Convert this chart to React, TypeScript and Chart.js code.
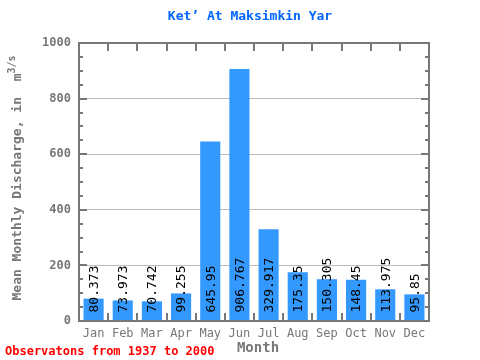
import React, { useEffect, useRef } from "react";
import { Chart, registerables } from "chart.js";

Chart.register(...registerables);

const months = ["Jan", "Feb", "Mar", "Apr", "May", "Jun", "Jul", "Aug", "Sep", "Oct", "Nov", "Dec"];
const discharge = [80.373, 73.973, 70.742, 99.255, 645.95, 906.767, 329.917, 175.35, 150.305, 148.45, 113.975, 95.85];
const valueLabels = ["80.373", "73.973", "70.742", "99.255", "645.95", "906.767", "329.917", "175.35", "150.305", "148.45", "113.975", "95.85"];
const titleText = "Ket\u2019 At Maksimkin Yar";
const yTitleMain = "Mean Monthly Discharge, in  m";
const yTitleSup = "3/s";
const xTitleText = "Month";
const noteText = "Observatons from 1937 to 2000";

const FONT = "'DejaVu Sans Mono', 'Liberation Mono', monospace";
const AXIS = "#777777";

const decorPlugin = {
  id: "decor",
  afterDatasetsDraw(chart: any) {
    const ctx = chart.ctx;
    const meta = chart.getDatasetMeta(0);
    ctx.save();
    ctx.fillStyle = "#000000";
    ctx.font = `13px ${FONT}`;
    ctx.textAlign = "left";
    ctx.textBaseline = "middle";
    meta.data.forEach((bar: any, i: number) => {
      ctx.save();
      ctx.translate(bar.x + 1, bar.base - 8);
      ctx.rotate(-Math.PI / 2);
      ctx.fillText(valueLabels[i], 0, 0);
      ctx.restore();
    });
    ctx.restore();
  },
  afterDraw(chart: any) {
    const ctx = chart.ctx;
    const { left, right, top, bottom } = chart.chartArea;
    const y = chart.scales.y;
    ctx.save();
    ctx.strokeStyle = AXIS;
    ctx.lineWidth = 2;
    ctx.strokeRect(left, top, right - left, bottom - top);
    for (let v = 50; v < 1000; v += 50) {
      const py = Math.round(y.getPixelForValue(v));
      const len = v % 200 === 0 ? 8 : 4;
      ctx.beginPath();
      ctx.moveTo(left, py);
      ctx.lineTo(left + len, py);
      ctx.moveTo(right, py);
      ctx.lineTo(right - len, py);
      ctx.stroke();
    }
    const n = months.length;
    const cw = (right - left) / n;
    for (let i = 1; i < n; i++) {
      const px = Math.round(left + cw * i);
      ctx.beginPath();
      ctx.moveTo(px, top);
      ctx.lineTo(px, top + 8);
      ctx.moveTo(px, bottom);
      ctx.lineTo(px, bottom - 8);
      ctx.stroke();
    }
    ctx.fillStyle = "#0066ff";
    ctx.font = `bold 13px ${FONT}`;
    ctx.textAlign = "center";
    ctx.textBaseline = "middle";
    ctx.fillText(titleText, 250, 17);
    ctx.fillStyle = AXIS;
    ctx.font = `bold 14px ${FONT}`;
    ctx.fillText(xTitleText, (left + right) / 2 + 4, 348);
    ctx.fillStyle = "#ff0000";
    ctx.font = `bold 12px ${FONT}`;
    ctx.textAlign = "left";
    ctx.fillText(noteText, 5, 352);
    ctx.save();
    ctx.translate(18, 178);
    ctx.rotate(-Math.PI / 2);
    ctx.fillStyle = AXIS;
    ctx.font = `bold 13px ${FONT}`;
    const mainW = ctx.measureText(yTitleMain).width;
    ctx.font = `bold 10px ${FONT}`;
    const supW = ctx.measureText(yTitleSup).width;
    const total = mainW + supW;
    ctx.textAlign = "left";
    ctx.font = `bold 13px ${FONT}`;
    ctx.fillText(yTitleMain, -total / 2, 0);
    ctx.font = `bold 10px ${FONT}`;
    ctx.fillText(yTitleSup, -total / 2 + mainW, -6);
    ctx.restore();
    ctx.restore();
  },
};

export default function App() {
  const ref = useRef<HTMLCanvasElement | null>(null);
  useEffect(() => {
    if (!ref.current) return;
    const chart = new Chart(ref.current, {
      type: "bar",
      data: {
        labels: months,
        datasets: [
          {
            data: discharge,
            backgroundColor: "#3399ff",
            borderWidth: 0,
            barPercentage: 0.69,
            categoryPercentage: 1.0,
          },
        ],
      },
      options: {
        responsive: false,
        animation: false,
        layout: { padding: { top: 43, right: 51, left: 0, bottom: 0 } },
        plugins: { legend: { display: false }, title: { display: false }, tooltip: { enabled: false } },
        scales: {
          x: {
            grid: { display: false, drawTicks: false },
            border: { display: false },
            ticks: { color: AXIS, font: { family: FONT, size: 12 }, padding: 6, maxRotation: 0 },
            afterFit(scale: any) {
              scale.height = 39;
            },
          },
          y: {
            min: 0,
            max: 1000,
            grid: {
              drawTicks: false,
              color: (c: any) => (c.tick && c.tick.value > 0 && c.tick.value < 1000 ? "#bbbbbb" : "rgba(0,0,0,0)"),
            },
            border: { display: false },
            ticks: {
              stepSize: 200,
              color: AXIS,
              font: { family: FONT, size: 12, weight: "bold" },
              padding: 8,
              callback: (v: any) => String(v),
            },
            afterFit(scale: any) {
              scale.width = 79;
            },
          },
        },
      },
      plugins: [decorPlugin],
    });
    return () => chart.destroy();
  }, []);
  return (
    <div style={{ position: "absolute", left: 0, top: 0, width: 480, height: 360, background: "#fff" }}>
      <canvas ref={ref} width={480} height={360} />
    </div>
  );
}
